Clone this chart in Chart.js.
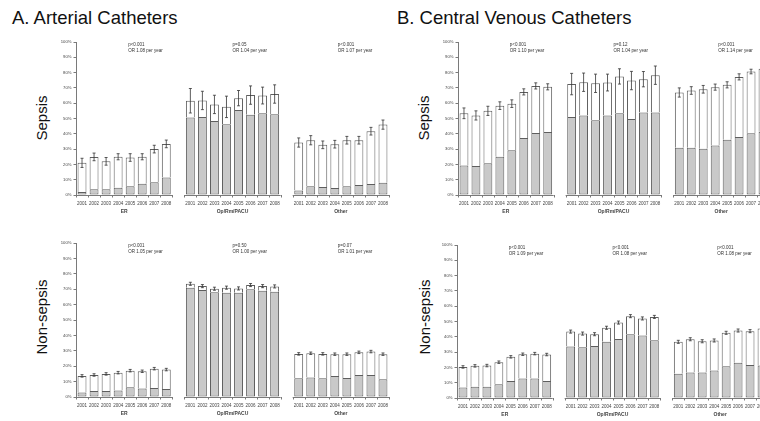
<!DOCTYPE html>
<html><head><meta charset="utf-8">
<script src="https://cdn.jsdelivr.net/npm/chart.js@4/dist/chart.umd.min.js"></script>
<style>
html,body{margin:0;padding:0;background:#fff;width:760px;height:421px;overflow:hidden;position:relative;font-family:"Liberation Sans",Arial,sans-serif;}
canvas{position:absolute;}
.ttl{position:absolute;font-size:18.5px;color:#111;white-space:nowrap;line-height:1;}
.ylab{position:absolute;font-size:15px;color:#111;white-space:nowrap;line-height:1;transform:translate(-50%,-50%) rotate(-90deg);}
</style>
</head><body>
<div class="ttl" style="left:12px;top:9px">A. Arterial Catheters</div>
<div class="ttl" style="left:397px;top:9px">B. Central Venous Catheters</div>
<div class="ylab" style="left:41px;top:118px">Sepsis</div>
<div class="ylab" style="left:41px;top:317px">Non-sepsis</div>
<div class="ylab" style="left:423px;top:118px">Sepsis</div>
<div class="ylab" style="left:424px;top:317px">Non-sepsis</div>
<canvas id="aTop" width="395" height="222" style="left:0;top:0"></canvas>
<canvas id="aBot" width="395" height="199" style="left:0;top:222px"></canvas>
<canvas id="bTop" width="390" height="222" style="left:390px;top:0"></canvas>
<canvas id="bBot" width="390" height="199" style="left:390px;top:222px"></canvas>
<script>
// ---- data ----
const years = ['2001','2002','2003','2004','2005','2006','2007','2008'];
const groups = ['ER','Op/Rm/PACU','Other'];
const yTicks = [0,10,20,30,40,50,60,70,80,90,100];

// Arterial catheters, sepsis (ER | Op/Rm/PACU | Other)
const artSepsisTotal = [21,24.9,22,25,24.5,25,30,33.4, 61.6,61.8,59.2,57.6,63.3,65.3,65,66, 34.3,35.8,32.8,33.2,35.8,35.8,41.7,46];
const artSepsisGray  = [2,3.7,3.7,4.8,5.7,7.4,8.3,11.4, 50.7,50.9,48.3,46.3,55.5,52.4,53.5,52.8, 3,5.7,5.2,4.6,5.7,6.6,7.2,8];
const artSepsisErr   = [3,2.5,2.5,2,2.5,2,2.5,2.5, 8,6,6,7,5,6,5.5,6, 3,3,2.5,2.5,2.5,2.5,2.5,3];
const artSepsisNote  = [['p<0.001','OR 1.08 per year'],['p=0.05','OR 1.04 per year'],['p<0.001','OR 1.07 per year']];

// Arterial catheters, non-sepsis
const artNonTotal = [13.7,14.3,15,15.8,17.1,16.7,18.4,17.8, 73.5,72,70.3,71,70.5,72.7,72,71.8, 28,28.4,28,27.8,27.8,29,29.5,27.8];
const artNonGray  = [3,3.9,3.9,4.3,6.3,5.6,5.9,5.2, 71,69.4,68.1,67.7,67.7,70,69,68.3, 12.1,12.6,12.1,13.7,12.4,14.3,14.3,11.5];
const artNonErr   = [0.8,0.8,0.8,0.8,0.8,0.8,0.8,0.8, 1,1,1,1,1,1,1,1, 0.8,0.8,0.8,0.8,0.8,0.8,0.8,0.8];
const artNonNote  = [['p<0.001','OR 1.05 per year'],['p=0.50','OR 1.00 per year'],['p=0.07','OR 1.01 per year']];

// Central venous catheters, sepsis
const cvcSepsisTotal = [53.4,52,55,58.4,59.7,67.4,71.3,70.7, 72.5,73.7,73,73.5,77.5,74.8,75.7,78.3, 67,68.3,69.1,70.5,72,77.2,80.7,82.5];
const cvcSepsisGray  = [19.3,19,20.8,25,29.3,37.2,40.5,41.1, 51,52,48.8,52,53.4,49.7,54,54, 30.9,30.9,30.2,32.4,36.1,37.9,40.3,41.4];
const cvcSepsisErr   = [3.5,3,3,2.5,2.5,2,2,2, 7,6,6,5.5,5,6,5,6, 3,2.5,2.5,2,2,2,1.5,2];
const cvcSepsisNote  = [['p<0.001','OR 1.10 per year'],['p=0.12','OR 1.04 per year'],['p<0.001','OR 1.14 per year']];

// Central venous catheters, non-sepsis
const cvcNonTotal = [20.3,21,21.2,23.4,26.9,28.6,29,28.4, 43.4,42.1,41.7,45.9,49.3,53.5,52,53, 36.7,38.4,37.1,37.6,42.6,44.1,43.7,45.4];
const cvcNonGray  = [6.8,7.4,7.4,9,11.1,12.7,12.7,11.1, 33.6,33.2,34,36.7,38.6,41.7,40.8,37.8, 15.9,16.6,16.6,17.9,20.7,23.1,21.6,21.2];
const cvcNonErr   = [0.8,0.8,0.8,0.8,0.8,0.8,0.8,0.8, 1,1,1,1,1,1,1,1, 1,1,1,1,1,1,1,1];
const cvcNonNote  = [['p<0.001','OR 1.09 per year'],['p<0.001','OR 1.08 per year'],['p<0.001','OR 1.08 per year']];

// ---- build slot arrays (8 bars, gap, 8 bars, gap, 8 bars) ----
function slots(arr){ const out=[]; for(let g=0;g<3;g++){ for(let i=0;i<8;i++) out.push(arr==null?years[i]:arr[g*8+i]); if(g<2) out.push(arr==null?'':null);} return out; }
const labels = slots(null);
const groupStart = [0,9,18];

const FONT = '"Liberation Sans", Arial, sans-serif';

const extras = {
  id:'extras',
  afterDatasetsDraw(chart, args, opts){
    const ctx=chart.ctx, xs=chart.scales.x, ys=chart.scales.y, a=chart.chartArea;
    const slot = xs.getPixelForValue(1)-xs.getPixelForValue(0);
    ctx.save();
    // baselines per group with category tick marks
    ctx.strokeStyle='#7a7a7a'; ctx.lineWidth=1;
    groupStart.forEach(s=>{
      const x0=xs.getPixelForValue(s)-slot/2, x1=xs.getPixelForValue(s+7)+slot/2;
      ctx.beginPath(); ctx.moveTo(x0,a.bottom+0.5); ctx.lineTo(x1,a.bottom+0.5); ctx.stroke();
      for(let k=0;k<=8;k++){ const x=Math.round(x0+k*slot)+0.5; ctx.beginPath(); ctx.moveTo(x,a.bottom); ctx.lineTo(x,a.bottom+2.5); ctx.stroke(); }
    });
    // error bars
    const tot=opts.total, err=opts.err;
    ctx.strokeStyle='#333'; ctx.lineWidth=0.8;
    const t=slots(tot), e=slots(err);
    t.forEach((v,i)=>{
      if(v==null) return;
      const x=xs.getPixelForValue(i);
      const y0=ys.getPixelForValue(v+e[i]), y1=ys.getPixelForValue(v-e[i]);
      ctx.beginPath(); ctx.moveTo(x,y0); ctx.lineTo(x,y1);
      ctx.moveTo(x-1.5,y0); ctx.lineTo(x+1.5,y0);
      ctx.moveTo(x-1.5,y1); ctx.lineTo(x+1.5,y1); ctx.stroke();
    });
    // annotations and group labels
    const offs=[4,0,-3];
    groupStart.forEach((s,g)=>{
      const cx=(xs.getPixelForValue(s+3)+xs.getPixelForValue(s+4))/2;
      ctx.fillStyle='#333'; ctx.font='4.5px '+FONT; ctx.textAlign='left'; ctx.textBaseline='middle';
      ctx.fillText(opts.note[g][0], cx+offs[g], a.top+3);
      ctx.fillText(opts.note[g][1], cx+offs[g], a.top+9);
      ctx.font='bold 5px '+FONT; ctx.textAlign='center'; ctx.fillStyle='#444';
      ctx.fillText(groups[g], cx, a.bottom+17);
    });
    ctx.restore();
  }
};

function makePanel(id, L, R, T, B, total, gray, err, note){
  const cv=document.getElementById(id);
  const w=cv.width, h=cv.height, yW=30;
  const grayS=slots(gray), totS=slots(total);
  const whiteS=totS.map((v,i)=>v==null?null:v-grayS[i]);
  new Chart(cv,{
    type:'bar',
    data:{labels, datasets:[
      {data:grayS, backgroundColor:'#c9c9c9', borderColor:'#5e5e5e', borderWidth:1, borderSkipped:false, stack:'s'},
      {data:whiteS, backgroundColor:'#ffffff', borderColor:'#5e5e5e', borderWidth:1, borderSkipped:'start', stack:'s'}
    ]},
    options:{
      responsive:false, animation:false, devicePixelRatio:1,
      layout:{padding:{left:L-yW, right:w-R, top:T, bottom:0}},
      plugins:{legend:{display:false}, tooltip:{enabled:false}, extras:{total, err, note}},
      datasets:{bar:{categoryPercentage:1, barPercentage:0.74}},
      scales:{
        x:{stacked:true, offset:true, border:{display:false}, grid:{display:false, drawTicks:false},
           ticks:{autoSkip:false, maxRotation:0, minRotation:0, padding:6, color:'#444', font:{size:4.5, family:FONT}},
           afterFit(s){ s.height=h-B; }},
        y:{stacked:true, min:0, max:100, border:{display:true, color:'#7a7a7a', width:1},
           grid:{display:true, drawOnChartArea:false, drawTicks:true, tickLength:2.5, color:'#7a7a7a'},
           afterBuildTicks(s){ s.ticks=yTicks.map(v=>({value:v})); },
           ticks:{padding:2, color:'#444', font:{size:4.2, family:FONT}, callback:v=>v+'%'},
           afterFit(s){ s.width=yW; }}
      }
    },
    plugins:[extras]
  });
}

makePanel('aTop', 76, 389, 42, 195, artSepsisTotal, artSepsisGray, artSepsisErr, artSepsisNote);
makePanel('aBot', 76, 389, 21, 175, artNonTotal, artNonGray, artNonErr, artNonNote);
makePanel('bTop', 68, 379, 42, 195, cvcSepsisTotal, cvcSepsisGray, cvcSepsisErr, cvcSepsisNote);
makePanel('bBot', 67, 378, 23, 176, cvcNonTotal, cvcNonGray, cvcNonErr, cvcNonNote);
</script>
</body></html>
